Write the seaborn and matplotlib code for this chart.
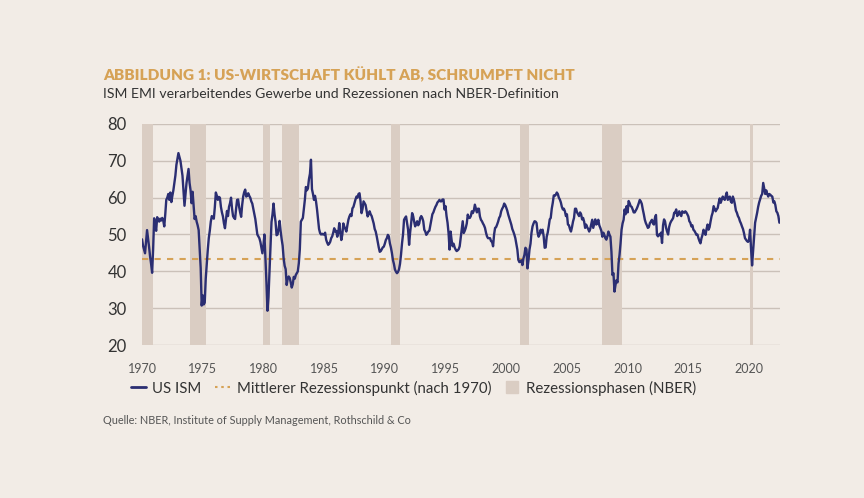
import numpy as np
import pandas as pd
import matplotlib
matplotlib.use("Agg")
import matplotlib.pyplot as plt
from matplotlib.lines import Line2D
import seaborn as sns

# ---------------- data ----------------
start_year = 1970
ism_1970 = [48.7, 47.0, 46.0, 44.9, 48.0, 51.2, 49.0, 46.6, 44.0, 42.0, 39.6, 46.0]
ism_1971 = [54.4, 52.5, 51.0, 54.7, 54.0, 53.5, 54.3, 53.8, 54.5, 53.8, 52.2, 55.5]
ism_1972 = [59.4, 60.0, 61.0, 59.4, 61.4, 58.8, 60.5, 62.0, 64.0, 66.0, 68.9, 70.5]
ism_1973 = [72.1, 71.0, 70.0, 68.0, 66.0, 62.0, 57.8, 61.0, 64.0, 66.0, 67.8, 64.0]
ism_1974 = [62.0, 58.5, 61.6, 58.0, 54.2, 55.0, 53.5, 52.5, 51.2, 46.0, 40.9, 30.7]
ism_1975 = [33.5, 31.0, 31.5, 38.0, 42.0, 45.8, 49.0, 51.0, 53.5, 55.0, 54.5, 54.3]
ism_1976 = [57.5, 61.4, 60.5, 59.4, 60.2, 60.0, 57.5, 56.0, 54.9, 53.0, 51.7, 54.0]
ism_1977 = [56.4, 55.0, 57.5, 58.5, 60.0, 57.0, 55.0, 54.5, 54.2, 57.0, 59.4, 59.5]
ism_1978 = [57.5, 56.0, 54.8, 58.0, 60.3, 61.5, 62.2, 60.3, 60.5, 61.2, 60.5, 60.0]
ism_1979 = [59.0, 58.4, 57.0, 55.5, 54.2, 52.0, 50.0, 49.5, 49.0, 48.0, 46.5, 44.9]
ism_1980 = [47.0, 50.0, 43.5, 37.0, 29.3, 33.0, 40.0, 47.0, 53.4, 55.5, 58.4, 55.5]
ism_1981 = [53.4, 49.8, 50.0, 51.5, 53.7, 51.0, 48.8, 47.0, 43.5, 41.5, 40.6, 36.3]
ism_1982 = [38.0, 38.6, 38.2, 37.0, 35.6, 36.5, 38.5, 38.0, 39.0, 39.5, 40.0, 42.2]
ism_1983 = [46.0, 53.5, 54.0, 54.5, 57.0, 59.5, 62.9, 62.0, 62.5, 65.0, 66.5, 70.3]
ism_1984 = [62.3, 61.0, 59.4, 60.5, 59.0, 56.8, 54.0, 51.5, 50.4, 50.0, 50.2, 50.0]
ism_1985 = [50.0, 50.5, 48.6, 47.8, 47.2, 47.5, 48.0, 49.0, 49.5, 50.5, 51.7, 50.8]
ism_1986 = [51.0, 49.4, 50.5, 53.1, 50.5, 48.5, 50.0, 53.0, 52.1, 51.5, 50.8, 52.5]
ism_1987 = [54.0, 54.9, 55.5, 55.0, 57.1, 57.5, 58.5, 59.5, 60.3, 60.0, 61.0, 61.2]
ism_1988 = [59.0, 55.8, 57.0, 59.0, 58.5, 58.0, 56.5, 54.9, 55.5, 56.3, 55.5, 55.0]
ism_1989 = [54.0, 53.0, 51.5, 50.8, 49.5, 48.0, 46.5, 45.3, 45.5, 46.0, 46.5, 46.7]
ism_1990 = [47.5, 48.5, 49.0, 49.9, 49.5, 47.6, 46.5, 45.0, 43.1, 42.0, 40.5, 39.9]
ism_1991 = [39.5, 39.8, 40.5, 42.0, 44.5, 47.6, 50.0, 54.0, 54.5, 54.9, 53.0, 51.3]
ism_1992 = [47.2, 50.5, 53.0, 55.8, 55.0, 53.5, 52.2, 53.0, 53.6, 52.5, 53.0, 54.5]
ism_1993 = [55.0, 54.5, 53.6, 51.3, 50.8, 49.9, 50.3, 50.8, 51.0, 52.5, 54.1, 55.5]
ism_1994 = [56.0, 56.8, 57.5, 58.0, 58.7, 59.0, 59.4, 59.0, 59.0, 59.5, 59.5, 56.8]
ism_1995 = [57.7, 55.0, 53.2, 50.4, 45.9, 50.8, 48.5, 46.8, 47.5, 46.5, 45.9, 45.5]
ism_1996 = [45.7, 46.0, 46.8, 49.0, 51.3, 53.6, 50.4, 51.0, 51.8, 53.0, 55.4, 54.5]
ism_1997 = [54.5, 55.0, 56.3, 55.8, 56.5, 58.1, 57.0, 56.0, 57.0, 57.0, 54.9, 54.0]
ism_1998 = [53.6, 53.0, 52.5, 51.8, 50.5, 49.5, 49.0, 49.0, 49.0, 48.2, 48.0, 46.8]
ism_1999 = [50.0, 51.8, 52.0, 52.7, 53.5, 54.5, 55.0, 56.3, 57.0, 57.5, 58.4, 58.0]
ism_2000 = [57.3, 56.5, 55.4, 54.5, 53.5, 52.7, 51.5, 50.8, 50.0, 49.0, 47.5, 45.9]
ism_2001 = [43.1, 42.5, 42.7, 43.0, 41.7, 43.5, 44.5, 46.4, 46.0, 40.8, 43.0, 45.9]
ism_2002 = [47.5, 50.5, 52.2, 53.0, 53.6, 53.5, 53.1, 50.5, 49.4, 50.0, 51.3, 50.5]
ism_2003 = [51.3, 49.5, 46.4, 46.5, 49.4, 50.5, 52.2, 54.1, 54.5, 57.0, 58.6, 60.6]
ism_2004 = [60.5, 60.8, 61.4, 61.0, 60.0, 59.5, 58.7, 57.5, 56.8, 57.0, 56.3, 55.0]
ism_2005 = [55.5, 52.7, 52.5, 51.5, 50.8, 52.0, 53.5, 54.5, 57.0, 57.0, 56.0, 55.5]
ism_2006 = [55.0, 56.0, 55.5, 54.1, 54.5, 53.5, 51.8, 52.7, 52.0, 51.5, 50.8, 51.5]
ism_2007 = [52.7, 54.0, 51.8, 53.0, 54.1, 52.7, 53.0, 54.0, 52.5, 51.8, 51.0, 49.4]
ism_2008 = [50.5, 49.9, 49.0, 48.6, 49.5, 50.8, 50.0, 49.4, 45.3, 39.0, 39.5, 34.5]
ism_2009 = [36.3, 37.6, 37.0, 42.1, 44.5, 47.6, 51.3, 53.0, 54.0, 56.8, 55.5, 57.7]
ism_2010 = [56.0, 59.1, 58.5, 57.7, 57.5, 56.8, 56.0, 56.0, 56.5, 57.0, 57.7, 58.5]
ism_2011 = [59.4, 59.0, 58.3, 56.8, 55.5, 54.0, 53.1, 52.5, 51.8, 52.0, 53.1, 53.5]
ism_2012 = [54.0, 53.0, 52.7, 54.5, 55.3, 49.9, 49.5, 50.0, 49.8, 50.5, 47.7, 52.5]
ism_2013 = [54.1, 53.5, 51.8, 50.8, 50.0, 52.0, 53.0, 53.6, 54.0, 54.5, 55.9, 56.0]
ism_2014 = [56.8, 55.0, 55.5, 56.3, 55.4, 55.0, 56.3, 56.0, 55.9, 56.3, 56.0, 55.5]
ism_2015 = [54.9, 53.6, 53.2, 52.2, 52.5, 51.3, 51.0, 50.5, 49.9, 50.0, 49.0, 48.2]
ism_2016 = [47.6, 49.0, 49.9, 51.3, 50.5, 49.9, 51.5, 52.7, 51.3, 52.0, 53.6, 55.0]
ism_2017 = [55.9, 57.7, 57.0, 56.3, 56.8, 57.2, 58.6, 59.8, 58.6, 59.5, 60.3, 59.8]
ism_2018 = [59.4, 60.5, 61.4, 59.4, 59.8, 60.3, 59.0, 58.6, 60.3, 59.5, 58.2, 56.5]
ism_2019 = [55.9, 55.0, 54.5, 53.6, 53.0, 52.2, 51.5, 50.4, 49.0, 48.6, 48.2, 48.0]
ism_2020 = [48.6, 51.3, 46.0, 41.6, 45.5, 49.4, 53.2, 54.5, 55.9, 57.5, 58.7, 59.6]
ism_2021 = [60.5, 61.0, 64.0, 62.5, 61.0, 62.0, 61.0, 60.3, 61.0, 60.8, 60.5, 60.3]
ism_2022 = [58.7, 59.0, 58.0, 56.3, 55.9, 55.0, 53.2]

ism_years = [ism_1970, ism_1971, ism_1972, ism_1973, ism_1974, ism_1975, ism_1976,
             ism_1977, ism_1978, ism_1979, ism_1980, ism_1981, ism_1982, ism_1983,
             ism_1984, ism_1985, ism_1986, ism_1987, ism_1988, ism_1989, ism_1990,
             ism_1991, ism_1992, ism_1993, ism_1994, ism_1995, ism_1996, ism_1997,
             ism_1998, ism_1999, ism_2000, ism_2001, ism_2002, ism_2003, ism_2004,
             ism_2005, ism_2006, ism_2007, ism_2008, ism_2009, ism_2010, ism_2011,
             ism_2012, ism_2013, ism_2014, ism_2015, ism_2016, ism_2017, ism_2018,
             ism_2019, ism_2020, ism_2021, ism_2022]

mean_recession_point = 43.4

# NBER recessions (decimal years)
rec_start = [1969.917, 1973.917, 1980.0, 1981.5, 1990.5, 2001.167, 2007.917, 2020.083]
rec_end = [1970.917, 1975.25, 1980.583, 1982.917, 1991.25, 2001.917, 2009.5, 2020.333]

xtick_years = [1970, 1975, 1980, 1985, 1990, 1995, 2000, 2005, 2010, 2015, 2020]
ytick_values = [20, 30, 40, 50, 60, 70, 80]

title = "ABBILDUNG 1: US-WIRTSCHAFT KÜHLT AB, SCHRUMPFT NICHT"
subtitle = "ISM EMI verarbeitendes Gewerbe und Rezessionen nach NBER-Definition"
source = "Quelle: NBER, Institute of Supply Management, Rothschild & Co"
legend_labels = ["US ISM", "Mittlerer Rezessionspunkt (nach 1970)", "Rezessionsphasen (NBER)"]

# ---------------- build frame ----------------
t, v = [], []
for yi, vals in enumerate(ism_years):
    for mi, val in enumerate(vals):
        t.append(start_year + yi + mi / 12.0)
        v.append(val)
df = pd.DataFrame({"t": t, "ISM": v})

# ---------------- style ----------------
BG = "#F2ECE6"
NAVY = "#2B2E72"
GOLD = "#D6A256"
BAND = "#DACDC3"
GRID = "#CBC1B9"
TXT = "#333333"

sns.set_theme(style="white")
plt.rcParams["font.family"] = ["Lato", "DejaVu Sans"]

fig = plt.figure(figsize=(8.64, 4.98), dpi=100, facecolor=BG)
ax = fig.add_axes([142 / 864, 1 - 345 / 498, (780 - 142) / 864, (345 - 124) / 498])
ax.set_facecolor(BG)

for s, e in zip(rec_start, rec_end):
    ax.axvspan(s, e, color=BAND, lw=0, zorder=1)

for yv in ytick_values:
    ax.axhline(yv, color=GRID, lw=1.0, zorder=0.5)

ax.axhline(mean_recession_point, color=GOLD, lw=1.5, ls=(0, (3, 3)), zorder=2)

sns.lineplot(data=df, x="t", y="ISM", ax=ax, color=NAVY, lw=1.7, zorder=3, legend=False)

ax.set_xlim(1970, 2022.55)
ax.set_ylim(20, 80)
ax.set_xticks(xtick_years)
ax.set_xticklabels([str(y) for y in xtick_years], fontsize=9, color="#555555")
ax.set_yticks(ytick_values)
ax.set_yticklabels([str(y) for y in ytick_values], fontsize=12, color=TXT)
ax.tick_params(axis="both", length=0)
ax.tick_params(axis="x", pad=13)
ax.tick_params(axis="y", pad=11)
ax.set_xlabel("")
ax.set_ylabel("")
for sp in ax.spines.values():
    sp.set_visible(False)

fig.text(103 / 864, 1 - 75 / 498, title, fontsize=11.1, fontweight="heavy",
         color=GOLD, va="center", ha="left")
fig.text(103 / 864, 1 - 94 / 498, subtitle, fontsize=10.1, fontweight="normal",
         color=TXT, va="center", ha="left")
fig.text(103 / 864, 1 - 421 / 498, source, fontsize=7.8, color="#555555",
         va="center", ha="left")

handles = [
    Line2D([0], [0], color=NAVY, lw=2),
    Line2D([0], [0], color=GOLD, lw=1.5, ls=(0, (1.2, 1.8))),
    Line2D([0], [0], color=BAND, lw=0, marker="s", markersize=8),
]
leg = fig.legend(handles, legend_labels, loc="center left",
                 bbox_to_anchor=(117 / 864, 1 - 388 / 498), ncol=3, frameon=False,
                 fontsize=10.8, handlelength=1.0, handletextpad=0.45, columnspacing=0.9)
for txt in leg.get_texts():
    txt.set_color(TXT)

fig.savefig("out.png", dpi=100, facecolor=BG)
